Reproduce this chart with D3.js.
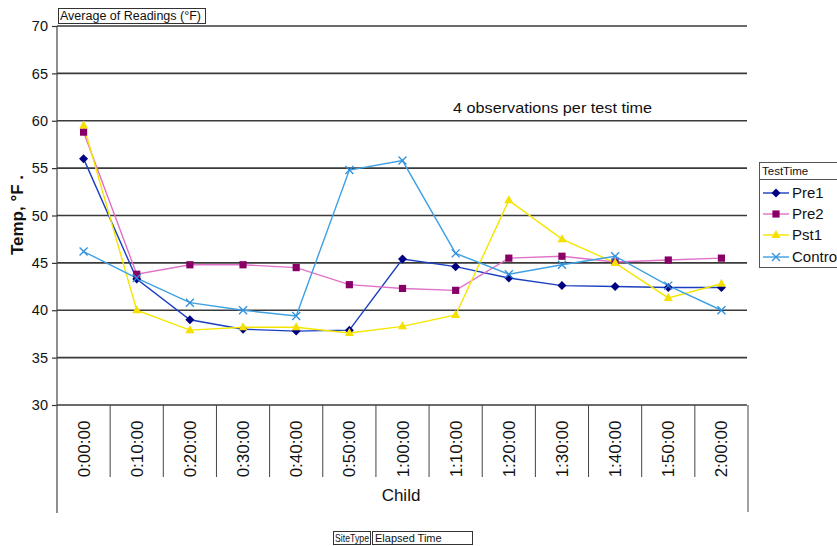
<!DOCTYPE html>
<html><head><meta charset="utf-8">
<script src="https://cdn.jsdelivr.net/npm/d3@7/dist/d3.min.js"></script>
<style>body{margin:0;background:#fff;} svg{display:block;} text{font-family:"Liberation Sans",Arial,sans-serif;}</style>
</head><body><svg id="c" width="837" height="546"></svg>
<script>
const categories = ["0:00:00","0:10:00","0:20:00","0:30:00","0:40:00","0:50:00","1:00:00","1:10:00","1:20:00","1:30:00","1:40:00","1:50:00","2:00:00"];
const pre1 = [56.0,43.3,39.0,38.0,37.8,37.9,45.4,44.6,43.4,42.6,42.5,42.4,42.4];
const pre2 = [58.8,43.8,44.8,44.8,44.5,42.7,42.3,42.1,45.5,45.7,45.1,45.3,45.5];
const pst1 = [59.5,40.0,37.9,38.2,38.2,37.6,38.3,39.5,51.6,47.5,45.0,41.3,42.8];
const control = [46.2,43.4,40.8,40.0,39.4,54.8,55.8,46.0,43.8,44.8,45.7,42.6,40.0];
const seriesNames = ["Pre1","Pre2","Pst1","Contro"];
const yTicks = [30,35,40,45,50,55,60,65,70];

const series = [
  {name:seriesNames[0], values:pre1, line:"#1a3fc0", marker:"#000080", shape:"diamond"},
  {name:seriesNames[1], values:pre2, line:"#e070c8", marker:"#880066", shape:"square"},
  {name:seriesNames[2], values:pst1, line:"#f5e600", marker:"#f5e000", shape:"triangle"},
  {name:seriesNames[3], values:control, line:"#3ea0e4", marker:"#2f90dc", shape:"x"}
];

const svg = d3.select("#c");
const L=57, R=748, T=26, B=405;
const x = d3.scaleBand().domain(categories).range([L,R]);
const y = d3.scaleLinear().domain([30,70]).range([B,T]);

svg.append("g").selectAll("line").data(yTicks).join("line")
  .attr("x1",L).attr("x2",R-1).attr("y1",d=>y(d)).attr("y2",d=>y(d))
  .attr("stroke","#3a3a3a").attr("stroke-width",1.6);

const ya = svg.append("g").attr("transform",`translate(${L},0)`)
  .call(d3.axisLeft(y).tickValues(yTicks).tickSize(5).tickPadding(4));
ya.select(".domain").remove();
ya.selectAll(".tick line").attr("stroke","#333").attr("stroke-width",1.2);
ya.selectAll(".tick text").attr("font-size",14.5).attr("fill","#111").style("font-family","Liberation Sans, Arial");

svg.append("line").attr("x1",L).attr("x2",L).attr("y1",T).attr("y2",513).attr("stroke","#444").attr("stroke-width",1.2);
const bounds = categories.map(c=>x(c)).concat([R]);
svg.append("g").selectAll("line").data(bounds.slice(1)).join("line")
  .attr("x1",d=>d).attr("x2",d=>d).attr("y1",B).attr("y2",(d,i)=> i===bounds.length-2 ? 512 : 477)
  .attr("stroke","#444").attr("stroke-width",1);

svg.append("g").selectAll("text").data(categories).join("text")
  .attr("transform",d=>`translate(${x(d)+x.bandwidth()/2+6},449) rotate(-90)`)
  .attr("text-anchor","middle").attr("font-size",17).attr("fill","#111").text(d=>d);

svg.append("text").attr("x",401).attr("y",501).attr("text-anchor","middle").attr("font-size",17).attr("fill","#111").text("Child");

svg.append("text").attr("transform","translate(23,215) rotate(-90)").attr("text-anchor","middle")
  .attr("font-size",17).attr("font-weight","bold").attr("fill","#111").text("Temp, °F .");

svg.append("rect").attr("x",58.5).attr("y",8.5).attr("width",147).attr("height",15).attr("fill","#fff").attr("stroke","#333");
svg.append("text").attr("x",60).attr("y",20).attr("font-size",12).attr("textLength",141).attr("lengthAdjust","spacingAndGlyphs").attr("fill","#111").text("Average of Readings (°F)");

svg.append("text").attr("x",453).attr("y",113).attr("font-size",15).attr("textLength",199).attr("lengthAdjust","spacingAndGlyphs").attr("fill","#111").text("4 observations per test time");

const line = d3.line().x((d,i)=>x(categories[i])+x.bandwidth()/2).y(d=>y(d));
function drawMarker(g, s, cx, cy){
  let d;
  if(s.shape==="x"){
    g.append("path").attr("d",`M${cx-4},${cy-4}L${cx+4},${cy+4}M${cx-4},${cy+4}L${cx+4},${cy-4}`)
      .attr("stroke",s.marker).attr("stroke-width",1.3).attr("fill","none");
    return;
  }
  if(s.shape==="diamond") d=`M${cx},${cy-4.5}L${cx+4.5},${cy}L${cx},${cy+4.5}L${cx-4.5},${cy}Z`;
  else if(s.shape==="square") d=`M${cx-3.6},${cy-3.6}h7.2v7.2h-7.2Z`;
  else d=`M${cx},${cy-5}L${cx+4.5},${cy+3}L${cx-4.5},${cy+3}Z`;
  g.append("path").attr("d",d).attr("fill",s.marker);
}
series.forEach(s=>{
  svg.append("path").datum(s.values).attr("d",line).attr("fill","none").attr("stroke",s.line).attr("stroke-width",1.4);
});
series.forEach(s=>{
  const g = svg.append("g");
  s.values.forEach((v,i)=>drawMarker(g,s,x(categories[i])+x.bandwidth()/2,y(v)));
});

const lg = svg.append("g");
lg.append("rect").attr("x",759.5).attr("y",162.5).attr("width",90).attr("height",105).attr("fill","#fff").attr("stroke","#555");
lg.append("line").attr("x1",759.5).attr("x2",840).attr("y1",179.5).attr("y2",179.5).attr("stroke","#555");
lg.append("text").attr("x",762).attr("y",175).attr("font-size",11.5).attr("fill","#111").text("TestTime");
const ly = [193,214,235,257];
series.forEach((s,i)=>{
  lg.append("line").attr("x1",763).attr("x2",789).attr("y1",ly[i]).attr("y2",ly[i]).attr("stroke",s.line).attr("stroke-width",1.4);
  drawMarker(lg,s,776,ly[i]);
  lg.append("text").attr("x",792).attr("y",ly[i]+5).attr("font-size",15).attr("fill","#111").text(s.name);
});

svg.append("rect").attr("x",333.5).attr("y",531.5).attr("width",37).attr("height",13).attr("fill","#fff").attr("stroke","#333");
svg.append("text").attr("x",335).attr("y",542).attr("font-size",11).attr("textLength",34).attr("lengthAdjust","spacingAndGlyphs").attr("fill","#111").text("SiteType");
svg.append("rect").attr("x",372.5).attr("y",531.5).attr("width",100).attr("height",13).attr("fill","#fff").attr("stroke","#333");
svg.append("text").attr("x",375).attr("y",542).attr("font-size",11).attr("fill","#111").text("Elapsed Time");
</script></body></html>
